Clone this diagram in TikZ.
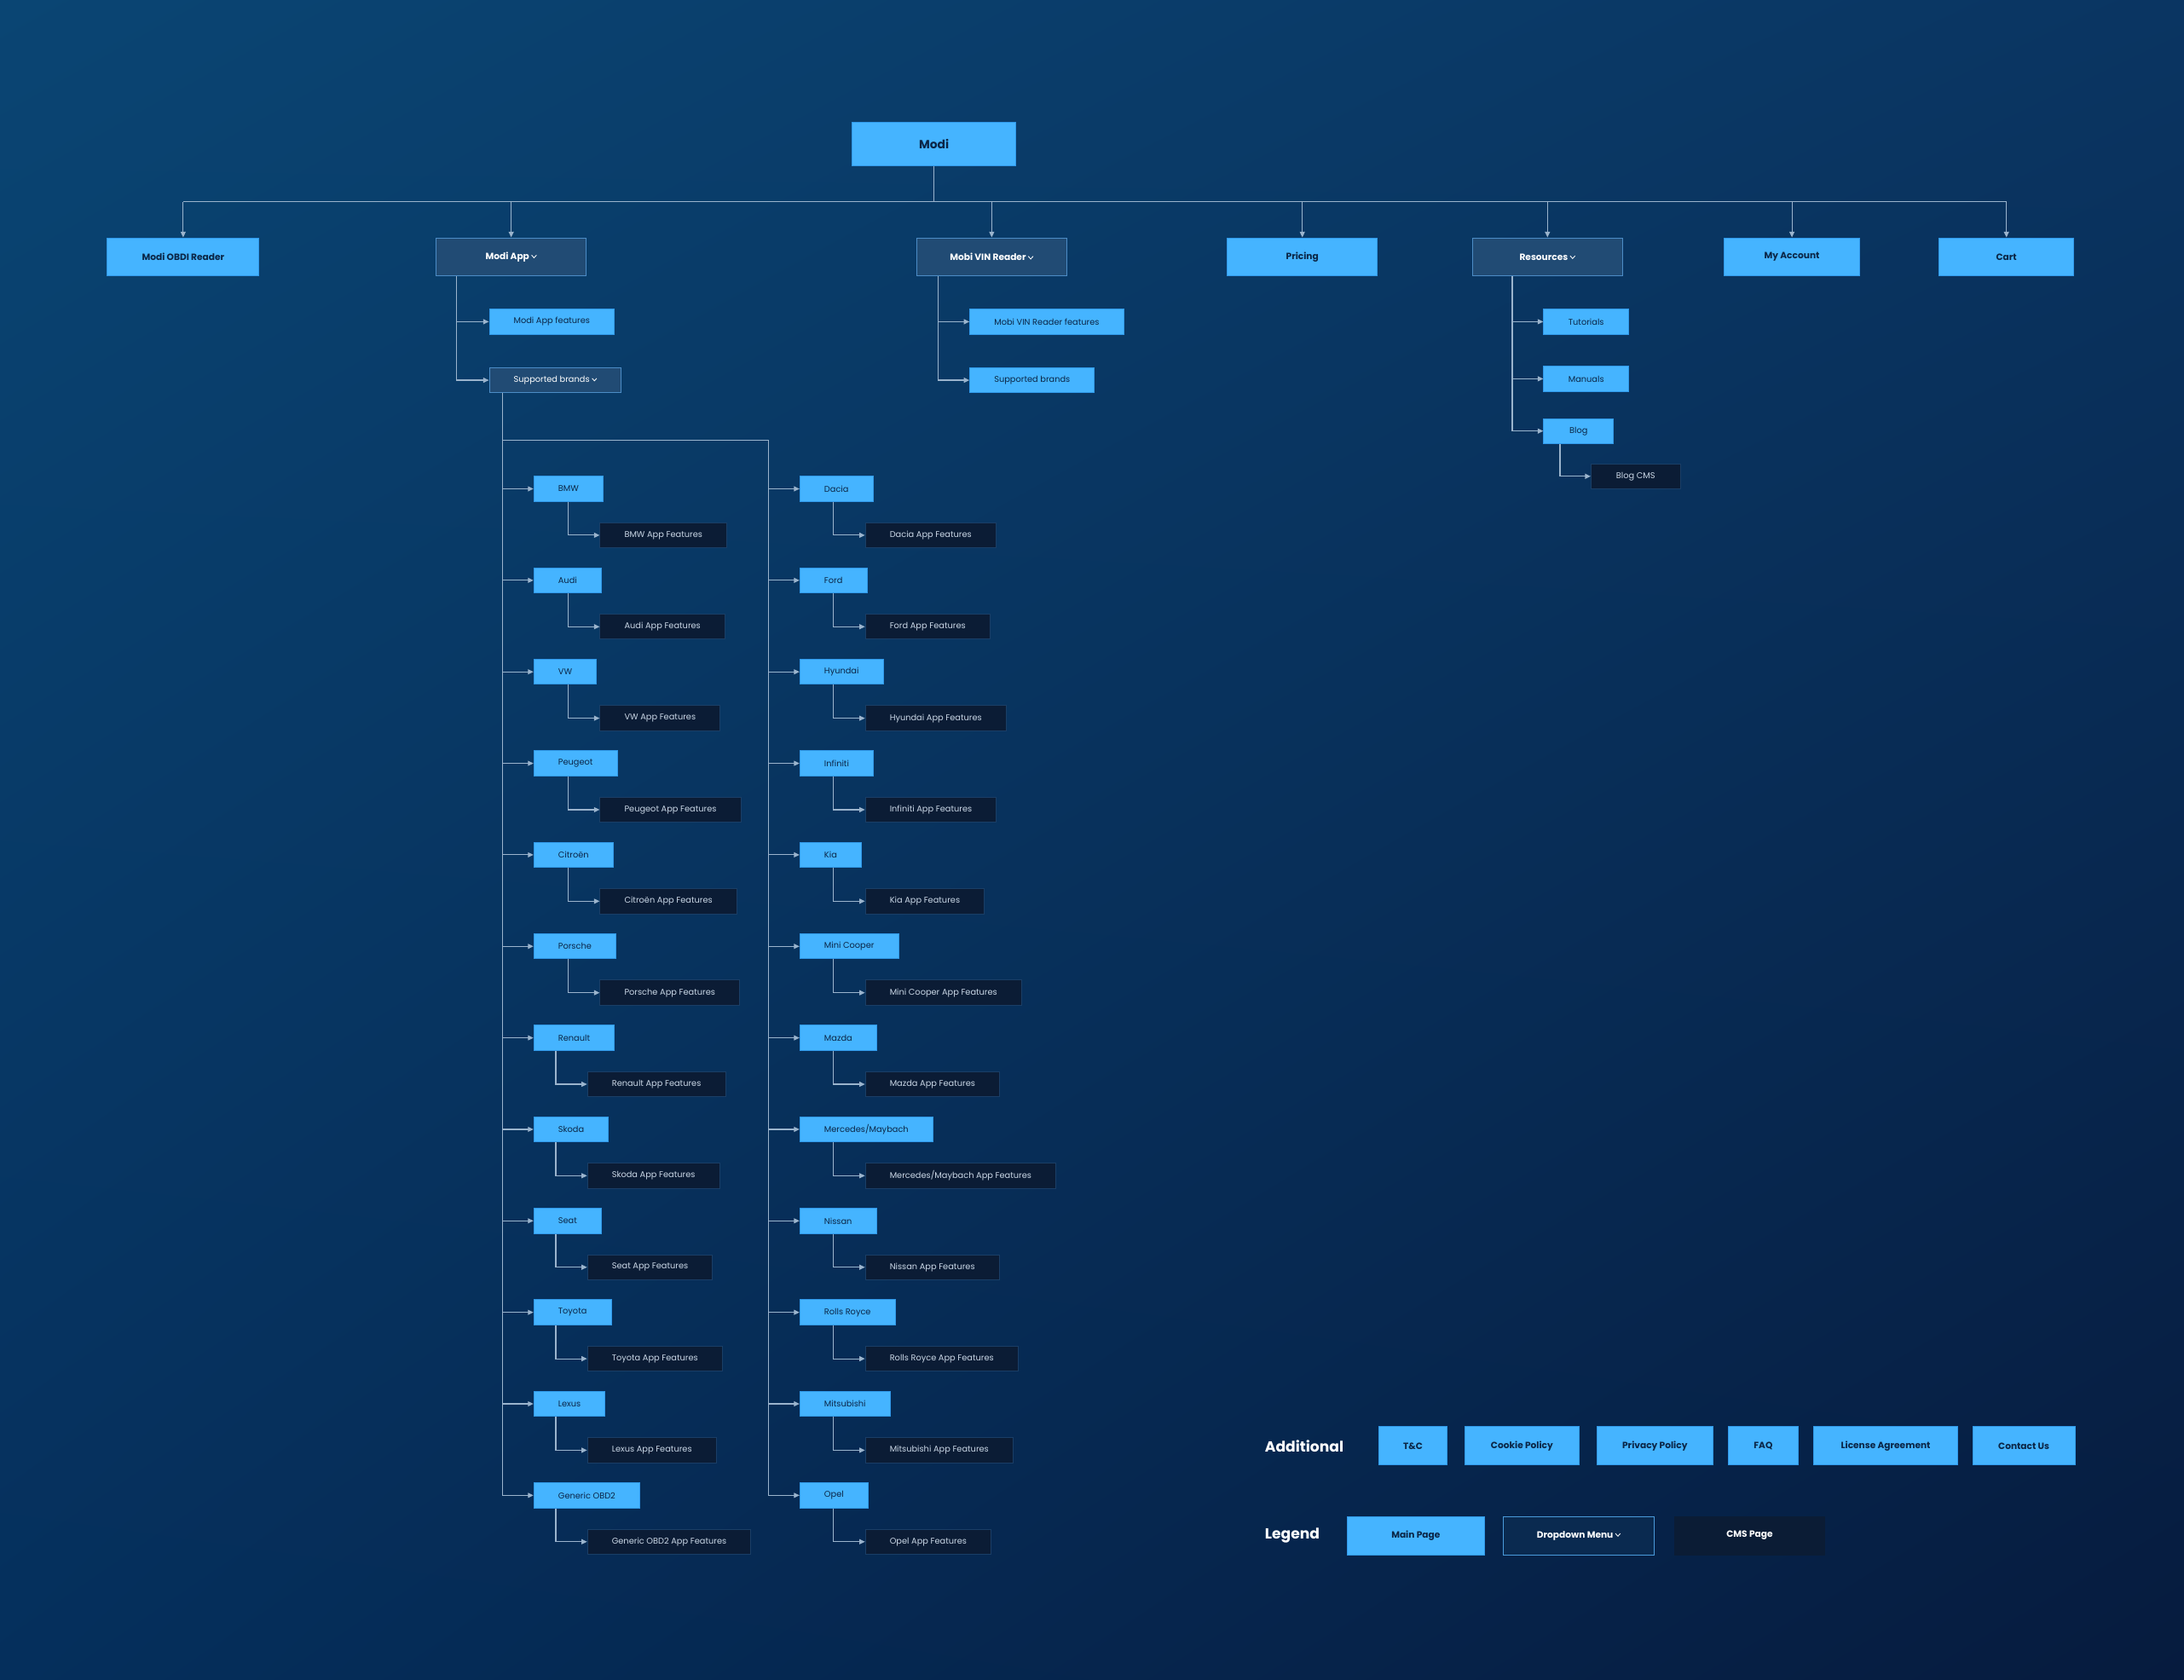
\documentclass[tikz,border=0pt]{standalone}
\usepackage{fontspec}
\setmainfont{Poppins}
\usepackage{tikz}
\usetikzlibrary{positioning}
\usetikzlibrary{arrows.meta}
\usetikzlibrary{shadings}
\definecolor{mainblue}{HTML}{45B4FF}
\definecolor{mainedge}{HTML}{3199EA}
\definecolor{navy}{HTML}{0B2646}
\definecolor{dropfill}{HTML}{214B74}
\definecolor{dropedge}{HTML}{4C8CC6}
\definecolor{legfill}{HTML}{0A2A50}
\definecolor{legedge}{HTML}{4A9BDB}
\definecolor{cmsfill}{HTML}{0B1C35}
\definecolor{cmsedge}{HTML}{1A3E66}
\definecolor{cmstext}{HTML}{CAD7E6}
\definecolor{linecol}{HTML}{9BB4CD}
\definecolor{bgul}{HTML}{0A4573}
\definecolor{bgur}{HTML}{0A3562}
\definecolor{bgll}{HTML}{052F5C}
\definecolor{bglr}{HTML}{061B3E}
\tikzset{
    sitemap/.style={
            x=1pt,y=-1pt,
            font=\fontsize{6}{7}\selectfont,
            box/.style={rectangle,inner xsep=17.5pt,inner ysep=0pt,minimum height=18pt,line width=0.6pt},
            mainpage/.style={box,fill=mainblue,draw=mainedge,text=navy},
            dropdown/.style={box,fill=dropfill,draw=dropedge,text=white},
            cmspage/.style={box,fill=cmsfill,draw=cmsedge,text=cmstext},
            topbox/.style={minimum height=27.5pt,font=\fontsize{6.5}{8}\selectfont\bfseries},
            heading/.style={text=white,inner sep=0pt,font=\fontsize{10.5}{12}\selectfont\bfseries},
            arrow/.style={draw=linecol,line width=0.7pt,-{Triangle[length=4pt,width=3.6pt]}},
            link/.style={draw=linecol,line width=0.7pt}
        }
    }
\newcommand{\chev}{\ \tikz[baseline=0pt]\draw[white,line width=0.5pt] (0pt,0.85ex) -- (0.27em,0.3ex) -- (0.54em,0.85ex);}

\begin{document}
\begin{tikzpicture}[sitemap]
    \shade[upper left=bgul,upper right=bgur,lower left=bgll,lower right=bglr] (0,0) rectangle (1568,1206);
    \useasboundingbox (0,0) rectangle (1568,1206);

    % home and main menu
    \node[mainpage,minimum width=117pt,minimum height=31pt,font=\fontsize{8.5}{10}\selectfont\bfseries] (modi) at (670.5,103.5) {Modi};
    \node[mainpage,topbox,minimum width=109pt] (obd) at (131.5,184.5) {Modi OBDI Reader};
    \node[dropdown,topbox,minimum width=108pt] (app) at (367,184.5) {Modi App\chev};
    \node[dropdown,topbox,minimum width=108pt] (vin) at (712,184.5) {Mobi VIN Reader\chev};
    \node[mainpage,topbox,minimum width=108pt] (pricing) at (935,184.5) {Pricing};
    \node[dropdown,topbox,minimum width=108pt] (res) at (1111,184.5) {Resources\chev};
    \node[mainpage,topbox,minimum width=97pt] (account) at (1286.5,184.5) {My Account};
    \node[mainpage,topbox,minimum width=97pt] (cart) at (1440.5,184.5) {Cart};
    \coordinate (bus) at (0,145);
    \draw[link] (modi.south) -- (modi.south |- bus);
    \draw[link] (obd.north |- bus) -- (cart.north |- bus);
    \foreach \n in {obd,app,vin,pricing,res,account,cart}
        \draw[arrow] (\n.north |- bus) -- (\n.north);

    % Modi App
    \node[mainpage,anchor=west] (appfeat) at (351,231) {Modi App features};
    \node[dropdown,anchor=west] (brands) at (351,273) {Supported brands\chev};
    \draw[arrow] ([xshift=15pt]app.south west) |- (appfeat);
    \draw[arrow] ([xshift=15pt]app.south west) |- (brands);

    % Mobi VIN Reader
    \node[mainpage,anchor=west] (vinfeat) at (696,231) {Mobi VIN Reader features};
    \node[mainpage,anchor=west] (vinbrands) at (696,273) {Supported brands};
    \draw[arrow] ([xshift=16pt]vin.south west) |- (vinfeat);
    \draw[arrow] ([xshift=16pt]vin.south west) |- (vinbrands);

    % Resources
    \node[mainpage,anchor=west,minimum width=61pt] (tutorials) at (1108,231) {Tutorials};
    \node[mainpage,anchor=west,minimum width=61pt] (manuals) at (1108,272) {Manuals};
    \node[mainpage,anchor=west,minimum width=50pt] (blog) at (1108,309.5) {Blog};
    \node[cmspage,anchor=west,minimum width=64pt] (blogcms) at (1142,342) {Blog CMS};
    \foreach \n in {tutorials,manuals,blog}
        \draw[arrow] ([xshift=29pt]res.south west) |- (\n);
    \draw[arrow] ([xshift=12pt]blog.south west) |- (blogcms);

    % supported brands
    \coordinate (splitL) at (361,316);
    \coordinate (splitR) at (551.5,316);
    \draw[link] (splitL) -- (splitR);
    \foreach \b/\txt/\dx [count=\k] in {bmw/BMW/25, audi/Audi/25, vw/VW/25, peugeot/Peugeot/25, citroen/Citroën/25, porsche/Porsche/25, renault/Renault/16, skoda/Skoda/16, seat/Seat/16, toyota/Toyota/16, lexus/Lexus/16, obd2/Generic OBD2/16}{
        \pgfmathsetmacro{\yy}{351+65.7*(\k-1)}
        \node[mainpage,anchor=west] (\b) at (383,\yy) {\txt};
        \node[cmspage,anchor=west] (\b-f) at (383+\dx+22.5,\yy+33.3) {\txt\ App Features};
        \draw[arrow] ([xshift=10pt]brands.south west) |- (\b);
        \draw[arrow] ([xshift=\dx pt]\b.south west) |- (\b-f);
    }
    \foreach \b/\txt [count=\k] in {dacia/Dacia, ford/Ford, hyundai/Hyundai, infiniti/Infiniti, kia/Kia, mini/Mini Cooper, mazda/Mazda, merc/{Mercedes/Maybach}, nissan/Nissan, rolls/Rolls Royce, mitsu/Mitsubishi, opel/Opel}{
        \pgfmathsetmacro{\yy}{351+65.7*(\k-1)}
        \node[mainpage,anchor=west] (\b) at (574,\yy) {\txt};
        \node[cmspage,anchor=west] (\b-f) at (621,\yy+33.3) {\txt\ App Features};
        \draw[arrow] (splitR) |- (\b);
        \draw[arrow] ([xshift=24pt]\b.south west) |- (\b-f);
    }

    % additional pages
    \node[heading,anchor=west] (additional) at (908,1038.5) {Additional};
    \node[mainpage,topbox,anchor=west,minimum width=48.5pt] (tc) at (989.6,1038.2) {T\&C};
    \node[mainpage,topbox,anchor=west,minimum width=82pt] (cookie) at (1051.4,1038.2) {Cookie Policy};
    \node[mainpage,topbox,anchor=west,minimum width=83pt] (privacy) at (1146.3,1038.2) {Privacy Policy};
    \node[mainpage,topbox,anchor=west,minimum width=50pt] (faq) at (1240.6,1038.2) {FAQ};
    \node[mainpage,topbox,anchor=west,minimum width=103pt] (license) at (1302,1038.2) {License Agreement};
    \node[mainpage,topbox,anchor=west,minimum width=73.4pt] (contact) at (1416,1038.2) {Contact Us};

    % legend
    \node[heading,anchor=west] (legend) at (908,1102.6) {Legend};
    \node[mainpage,topbox,anchor=west,minimum width=98.7pt] (lmain) at (966.8,1102.6) {Main Page};
    \node[dropdown,topbox,anchor=west,minimum width=108.4pt,fill=legfill,draw=legedge] (ldrop) at (1079,1102.6) {Dropdown Menu\chev};
    \node[cmspage,topbox,anchor=west,minimum width=108.3pt,draw=cmsfill,text=white] (lcms) at (1201.7,1102.6) {CMS Page};
\end{tikzpicture}
\end{document}
